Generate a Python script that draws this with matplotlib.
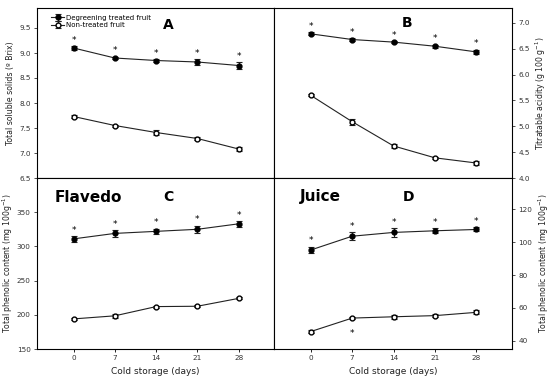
import matplotlib
matplotlib.use('Agg')
import matplotlib.pyplot as plt
import numpy as np

days = [0, 7, 14, 21, 28]

# A - total soluble solids
tss_treated = [9.10, 8.90, 8.85, 8.82, 8.75]
tss_treated_err = [0.04, 0.03, 0.03, 0.05, 0.07]
tss_control = [7.73, 7.55, 7.41, 7.29, 7.08]
tss_control_err = [0.03, 0.02, 0.06, 0.03, 0.04]

# B - titratable acidity
ta_treated = [6.79, 6.68, 6.63, 6.55, 6.44]
ta_treated_err = [0.03, 0.02, 0.02, 0.03, 0.04]
ta_control = [5.60, 5.09, 4.62, 4.39, 4.29]
ta_control_err = [0.02, 0.06, 0.04, 0.02, 0.04]

# C - phenolics, flavedo
fl_treated = [311, 319, 322, 325, 333]
fl_treated_err = [4, 5, 4, 5, 4]
fl_control = [194, 198.5, 212, 212.5, 224]
fl_control_err = [2, 3, 1.5, 1.5, 1.5]

# D - phenolics, juice
ju_treated = [95.2, 103.6, 105.9, 106.9, 107.7]
ju_treated_err = [2.0, 2.5, 2.5, 1.5, 1.2]
ju_control = [45.6, 53.8, 54.6, 55.3, 57.3]
ju_control_err = [1.0, 0.5, 1.3, 0.8, 1.3]

W, H = 550, 384
fig = plt.figure(figsize=(5.5, 3.84), dpi=100)

def box(x0, y0, x1, y1):
    return [x0 / W, 1 - y1 / H, (x1 - x0) / W, (y1 - y0) / H]

axA = fig.add_axes(box(37, 8, 274, 178))
axB = fig.add_axes(box(274, 8, 512, 178))
axC = fig.add_axes(box(37, 178, 274, 349))
axD = fig.add_axes(box(274, 178, 512, 349))

tc = '#333333'
lab = dict(fontsize=5.6, color='#222222')

def draw(ax, yt, yte, yc, yce):
    ax.errorbar(days, yt, yerr=yte, color='#222222', marker='o', ms=3.5,
                mfc='black', mec='black', lw=0.8, elinewidth=0.8, capsize=2,
                capthick=0.8, label='Degreening treated fruit')
    ax.errorbar(days, yc, yerr=yce, color='#222222', marker='o', ms=3.5,
                mfc='white', mec='black', lw=0.8, elinewidth=0.8, capsize=2,
                capthick=0.8, label='Non-treated fruit')
    for d, v, e in zip(days, yt, yte):
        ax.annotate('*', (d, v + e), xytext=(0, 1), textcoords='offset points',
                    ha='center', va='bottom', fontsize=6.5)
    ax.set_xlim(-6.2, 34)
    for s in ax.spines.values():
        s.set_linewidth(0.8)
    ax.tick_params(labelsize=5.2, colors=tc, length=2.5, width=0.6, pad=2)
    ax.tick_params(axis='x', colors='black', labelcolor=tc)

draw(axA, tss_treated, tss_treated_err, tss_control, tss_control_err)
draw(axB, ta_treated, ta_treated_err, ta_control, ta_control_err)
draw(axC, fl_treated, fl_treated_err, fl_control, fl_control_err)
draw(axD, ju_treated, ju_treated_err, ju_control, ju_control_err)

axD.annotate('*', (7, ju_control[1] - ju_control_err[1]), xytext=(0, -14),
             textcoords='offset points', ha='center', va='bottom', fontsize=6.5)

axA.set_ylim(6.5, 9.9)
axA.set_yticks(np.arange(6.5, 9.51, 0.5))
axB.set_ylim(4.0, 7.29)
axB.set_yticks(np.arange(4.0, 7.01, 0.5))
axC.set_ylim(150, 400)
axC.set_yticks(range(150, 351, 50))
axD.set_ylim(35, 139)
axD.set_yticks(range(40, 121, 20))

for ax in (axA, axB):
    ax.set_xticks([])
for ax in (axC, axD):
    ax.set_xticks(days)
    ax.set_xlabel('Cold storage (days)', fontsize=6.5, color='#222222', labelpad=4)

for ax in (axB, axD):
    ax.yaxis.tick_right()
    ax.yaxis.set_label_position('right')

axA.set_ylabel('Total soluble solids (º Brix)', labelpad=3, **lab)
axB.set_ylabel('Titratable acidity (g 100 g$^{-1}$)', labelpad=3, **lab)
axC.set_ylabel('Total phenolic content (mg 100g$^{-1}$)', labelpad=1, **lab)
axD.set_ylabel('Total phenolic content (mg 100g$^{-1}$)', labelpad=3, **lab)

axA.legend(loc='upper left', bbox_to_anchor=(0.04, 0.99), frameon=False,
           fontsize=5, handlelength=1.8, handletextpad=0.3, labelspacing=0.25,
           borderaxespad=0.3)

axA.text(16, 9.56, 'A', fontsize=10, fontweight='bold', ha='center', va='center')
axB.text(16.2, 7.0, 'B', fontsize=10, fontweight='bold', ha='center', va='center')
axC.text(16, 372, 'C', fontsize=10, fontweight='bold', ha='center', va='center')
axD.text(16.5, 127.5, 'D', fontsize=10, fontweight='bold', ha='center', va='center')
axC.text(-3.2, 372, 'Flavedo', fontsize=11, fontweight='bold', ha='left', va='center')
axD.text(-1.9, 127.5, 'Juice', fontsize=11, fontweight='bold', ha='left', va='center')

fig.savefig('out.png', dpi=100)
